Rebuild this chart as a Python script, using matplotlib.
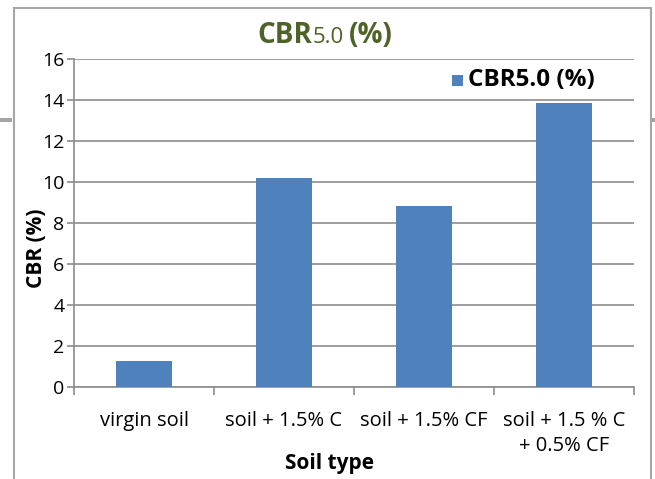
import matplotlib
matplotlib.use("Agg")
import matplotlib.pyplot as plt
from matplotlib.patches import Rectangle
import numpy as np

# data
soil_types = ["virgin soil", "soil + 1.5% C", "soil + 1.5% CF", "soil + 1.5 % C\n+ 0.5% CF"]
cbr_values = [1.25, 10.2, 8.85, 13.85]
y_ticks = [0, 2, 4, 6, 8, 10, 12, 14, 16]

plt.rcParams['font.family'] = ['Open Sans', 'DejaVu Sans']

bar_color = "#4F81BD"
grid_color = "#8C8C8C"
W, H = 655, 479

fig = plt.figure(figsize=(6.55, 4.79), dpi=100)
ax = fig.add_axes([74 / W, 1 - 387 / H, (634 - 74) / W, (387 - 59) / H])

x = np.arange(len(soil_types))
ax.bar(x, cbr_values, width=0.4, color=bar_color, zorder=3, label="CBR5.0 (%)")

ax.set_xlim(-0.5, len(soil_types) - 0.5)
ax.set_ylim(0, 16)
ax.set_yticks(y_ticks)
ax.set_yticklabels([str(t) for t in y_ticks], fontsize=14)
ax.yaxis.grid(True, color=grid_color, linewidth=1.2, zorder=0)

# category labels between the boundary ticks
ax.set_xticks(np.arange(len(soil_types) + 1) - 0.5)
ax.set_xticklabels([])
ax.set_xticks(x, minor=True)
ax.set_xticklabels(soil_types, minor=True, fontsize=14.5, linespacing=1.35)
ax.tick_params(axis='x', which='minor', length=0, pad=17)
ax.tick_params(axis='x', which='major', length=6, color=grid_color, width=1.2)
ax.tick_params(axis='y', length=5, color=grid_color, width=1.2, pad=2)

for s in ["top", "right"]:
    ax.spines[s].set_visible(False)
for s in ["left", "bottom"]:
    ax.spines[s].set_color(grid_color)
    ax.spines[s].set_linewidth(1.2)

# outer chart border and the stray lines behind it
fig.patches.append(Rectangle((14 / W, -0.05), (651 - 14) / W, 1.05 - 8 / H,
                             transform=fig.transFigure, fill=False,
                             edgecolor="#A6A6A6", linewidth=1.5))
fig.patches.append(Rectangle((0, 1 - 122 / H), 12 / W, 4 / H, transform=fig.transFigure,
                             color="#A6A6A6", linewidth=0))
fig.patches.append(Rectangle((652 / W, 1 - 122 / H), 3 / W, 4 / H, transform=fig.transFigure,
                             color="#A6A6A6", linewidth=0))

# title with smaller 5.0
title_color = "#4F6228"
t1 = fig.text(257 / W, 1 - 43 / H, "CBR", fontsize=20, fontweight='bold',
              color=title_color, ha='left', va='baseline')
fig.canvas.draw()
bb1 = t1.get_window_extent()
t2 = fig.text(bb1.x1 / W + 1 / W, 1 - 43 / H, "5.0", fontsize=16, color=title_color,
              ha='left', va='baseline')
fig.canvas.draw()
bb2 = t2.get_window_extent()
fig.text(bb2.x1 / W + 5 / W, 1 - 43 / H, "(%)", fontsize=20, fontweight='bold',
         color=title_color, ha='left', va='baseline')

# legend
fig.patches.append(Rectangle((452 / W, 1 - 86 / H), 11 / W, 11 / H, transform=fig.transFigure,
                             color=bar_color, linewidth=0))
fig.text(468 / W, 1 - 80 / H, "CBR5.0 (%)", fontsize=17.5, fontweight='bold',
         ha='left', va='center')

fig.text(36 / W, 1 - 248 / H, "CBR (%)", fontsize=15, fontweight='bold',
         rotation=90, ha='center', va='center')
fig.text(330 / W, 1 - 463 / H, "Soil type", fontsize=15, fontweight='bold',
         ha='center', va='center')

fig.savefig("out.png", dpi=100)
